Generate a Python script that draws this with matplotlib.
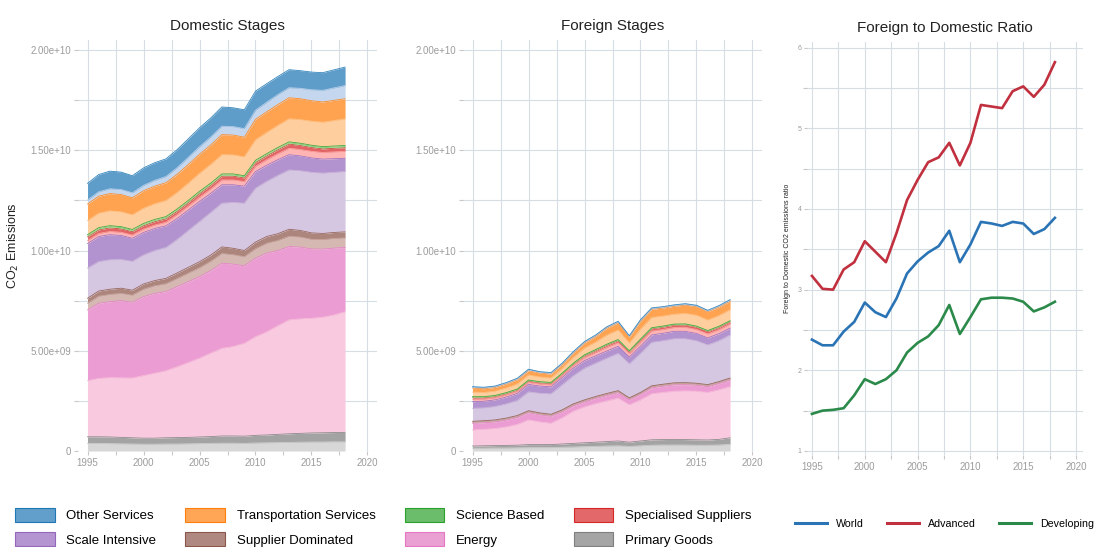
import numpy as np
import matplotlib
matplotlib.use("Agg")
import matplotlib.pyplot as plt
from matplotlib.ticker import MultipleLocator, FuncFormatter
from matplotlib.patches import Patch
from matplotlib.lines import Line2D
from matplotlib.colors import to_rgb

plt.rcParams['font.family'] = ['Liberation Sans', 'DejaVu Sans']

years = list(range(1995, 2019))

# Sector names, stacked bottom -> top; each sector has two components (a: lower, b: upper)
sectors = ["Primary Goods", "Energy", "Supplier Dominated", "Scale Intensive",
           "Specialised Suppliers", "Science Based", "Transportation Services", "Other Services"]
dark_colors = ['#7f7f7f', '#e377c2', '#8c564b', '#9467bd', '#d62728', '#2ca02c', '#ff7f0e', '#1f77b4']
light_colors = ['#c7c7c7', '#f7b6d2', '#c49c94', '#c5b0d5', '#ff9896', '#98df8a', '#ffbb78', '#aec7e8']

# ---- Domestic stages, CO2 emissions in billions (1e9) ----
dom_primary_a = [0.38, 0.38, 0.37, 0.36, 0.35, 0.34, 0.34, 0.35, 0.35, 0.36, 0.37, 0.38,
                 0.39, 0.39, 0.38, 0.40, 0.41, 0.42, 0.43, 0.44, 0.45, 0.45, 0.46, 0.46]
dom_primary_b = [0.33, 0.33, 0.33, 0.32, 0.31, 0.30, 0.30, 0.31, 0.32, 0.32, 0.33, 0.34,
                 0.36, 0.36, 0.36, 0.38, 0.39, 0.41, 0.43, 0.44, 0.45, 0.46, 0.46, 0.47]
dom_energy_a = [2.80, 2.91, 2.96, 2.97, 2.98, 3.12, 3.24, 3.34, 3.53, 3.73, 3.93, 4.16,
                4.37, 4.46, 4.63, 4.92, 5.14, 5.42, 5.68, 5.71, 5.72, 5.76, 5.86, 6.02]
dom_energy_b = [3.53, 3.75, 3.79, 3.85, 3.78, 3.94, 3.98, 3.95, 4.00, 4.04, 4.07, 4.12,
                4.25, 4.11, 3.87, 3.92, 3.93, 3.75, 3.66, 3.58, 3.46, 3.40, 3.34, 3.20]
dom_supplier_a = [0.33, 0.35, 0.36, 0.36, 0.35, 0.37, 0.38, 0.39, 0.40, 0.42, 0.44, 0.46,
                  0.48, 0.47, 0.45, 0.47, 0.49, 0.50, 0.51, 0.50, 0.48, 0.47, 0.48, 0.48]
dom_supplier_b = [0.25, 0.26, 0.26, 0.26, 0.25, 0.26, 0.26, 0.27, 0.28, 0.29, 0.30, 0.31,
                  0.33, 0.32, 0.31, 0.33, 0.34, 0.34, 0.35, 0.33, 0.32, 0.31, 0.30, 0.30]
dom_scale_a = [1.50, 1.47, 1.47, 1.43, 1.44, 1.45, 1.50, 1.54, 1.67, 1.84, 2.01, 2.13,
               2.18, 2.29, 2.36, 2.69, 2.75, 2.91, 2.96, 2.98, 3.02, 3.01, 3.00, 3.01]
dom_scale_b = [1.23, 1.25, 1.25, 1.20, 1.15, 1.12, 1.10, 1.08, 1.05, 1.02, 1.00, 0.95,
               0.92, 0.88, 0.85, 0.83, 0.80, 0.78, 0.76, 0.74, 0.72, 0.70, 0.68, 0.66]
dom_special_a = [0.15, 0.15, 0.16, 0.16, 0.16, 0.17, 0.17, 0.18, 0.19, 0.20, 0.21, 0.22,
                 0.24, 0.24, 0.23, 0.26, 0.28, 0.30, 0.32, 0.32, 0.33, 0.33, 0.34, 0.35]
dom_special_b = [0.18, 0.18, 0.18, 0.17, 0.17, 0.17, 0.17, 0.17, 0.17, 0.17, 0.18, 0.18,
                 0.19, 0.19, 0.18, 0.19, 0.19, 0.20, 0.21, 0.20, 0.19, 0.18, 0.18, 0.18]
dom_science_a = [0.04] * 24
dom_science_b = [0.07] * 24
dom_transport_a = [0.70, 0.72, 0.74, 0.74, 0.73, 0.76, 0.78, 0.80, 0.82, 0.86, 0.90, 0.93,
                   0.96, 0.95, 0.94, 1.02, 1.06, 1.10, 1.15, 1.18, 1.20, 1.22, 1.27, 1.33]
dom_transport_b = [0.83, 0.85, 0.86, 0.86, 0.85, 0.87, 0.88, 0.89, 0.91, 0.93, 0.95, 0.97,
                   1.00, 0.99, 0.98, 1.02, 1.03, 1.04, 1.05, 1.04, 1.02, 1.01, 1.01, 1.00]
dom_other_a = [0.20, 0.22, 0.24, 0.25, 0.25, 0.27, 0.29, 0.31, 0.33, 0.36, 0.38, 0.40,
               0.42, 0.42, 0.43, 0.46, 0.48, 0.50, 0.50, 0.52, 0.55, 0.58, 0.62, 0.66]
dom_other_b = [0.83, 0.86, 0.88, 0.87, 0.85, 0.87, 0.88, 0.88, 0.90, 0.92, 0.94, 0.95,
               0.96, 0.94, 0.94, 0.95, 0.92, 0.90, 0.90, 0.88, 0.88, 0.88, 0.90, 0.92]

# ---- Foreign stages, CO2 emissions in billions (1e9) ----
for_primary_a = [0.14, 0.14, 0.15, 0.15, 0.16, 0.17, 0.17, 0.17, 0.19, 0.20, 0.22, 0.23,
                 0.25, 0.26, 0.23, 0.26, 0.29, 0.30, 0.30, 0.30, 0.29, 0.29, 0.30, 0.34]
for_primary_b = [0.11, 0.12, 0.12, 0.13, 0.13, 0.15, 0.15, 0.15, 0.16, 0.18, 0.19, 0.21,
                 0.22, 0.24, 0.21, 0.24, 0.27, 0.27, 0.28, 0.27, 0.27, 0.26, 0.28, 0.32]
for_energy_a = [0.80, 0.82, 0.85, 0.92, 1.03, 1.23, 1.13, 1.06, 1.30, 1.60, 1.79, 1.92,
                2.03, 2.13, 1.86, 2.05, 2.29, 2.35, 2.40, 2.43, 2.42, 2.37, 2.47, 2.55]
for_energy_b = [0.33, 0.33, 0.33, 0.34, 0.35, 0.36, 0.35, 0.35, 0.30, 0.27, 0.25, 0.26,
                0.27, 0.28, 0.25, 0.27, 0.30, 0.31, 0.32, 0.31, 0.30, 0.29, 0.31, 0.33]
for_supplier_a = [0.06] * 24
for_supplier_b = [0.04] * 24
for_scale_a = [0.65, 0.64, 0.67, 0.71, 0.75, 0.94, 0.98, 1.02, 1.25, 1.40, 1.58, 1.66,
               1.76, 1.86, 1.70, 1.95, 2.17, 2.17, 2.20, 2.19, 2.12, 1.98, 2.04, 2.15]
for_scale_b = [0.33, 0.33, 0.33, 0.34, 0.35, 0.37, 0.36, 0.35, 0.36, 0.38, 0.38, 0.37,
               0.36, 0.35, 0.34, 0.36, 0.37, 0.37, 0.37, 0.37, 0.36, 0.35, 0.35, 0.34]
for_special_a = [0.12, 0.11, 0.10, 0.10, 0.10, 0.10, 0.10, 0.10, 0.10, 0.12, 0.15, 0.16,
                 0.18, 0.18, 0.16, 0.19, 0.19, 0.19, 0.19, 0.20, 0.20, 0.20, 0.20, 0.20]
for_special_b = [0.08, 0.07, 0.07, 0.07, 0.07, 0.07, 0.07, 0.07, 0.07, 0.08, 0.09, 0.10,
                 0.11, 0.11, 0.10, 0.11, 0.12, 0.12, 0.12, 0.12, 0.12, 0.12, 0.12, 0.12]
for_science_a = [0.02] * 24
for_science_b = [0.03] * 24
for_transport_a = [0.23, 0.21, 0.21, 0.23, 0.25, 0.25, 0.23, 0.22, 0.23, 0.28, 0.33, 0.37,
                   0.45, 0.47, 0.38, 0.50, 0.51, 0.50, 0.49, 0.52, 0.54, 0.52, 0.53, 0.55]
for_transport_b = [0.20, 0.19, 0.19, 0.20, 0.22, 0.22, 0.20, 0.20, 0.20, 0.23, 0.26, 0.29,
                   0.35, 0.37, 0.30, 0.40, 0.41, 0.40, 0.40, 0.42, 0.43, 0.42, 0.43, 0.43]
for_other_a = [0.03] * 24
for_other_b = [0.04] * 24

# ---- Foreign to domestic ratio ----
ratio_world = [2.38, 2.31, 2.31, 2.48, 2.60, 2.84, 2.72, 2.66, 2.89, 3.20, 3.35, 3.46,
               3.54, 3.73, 3.34, 3.56, 3.84, 3.82, 3.79, 3.84, 3.82, 3.69, 3.75, 3.89]
ratio_advanced = [3.17, 3.01, 3.00, 3.25, 3.34, 3.60, 3.47, 3.34, 3.70, 4.11, 4.36, 4.58,
                  4.64, 4.82, 4.54, 4.82, 5.29, 5.27, 5.25, 5.46, 5.52, 5.39, 5.54, 5.82]
ratio_developing = [1.46, 1.50, 1.51, 1.53, 1.69, 1.89, 1.83, 1.89, 2.00, 2.22, 2.34, 2.42,
                    2.56, 2.81, 2.45, 2.66, 2.88, 2.90, 2.90, 2.89, 2.85, 2.73, 2.78, 2.85]

domestic_layers = [dom_primary_a, dom_primary_b, dom_energy_a, dom_energy_b,
                   dom_supplier_a, dom_supplier_b, dom_scale_a, dom_scale_b,
                   dom_special_a, dom_special_b, dom_science_a, dom_science_b,
                   dom_transport_a, dom_transport_b, dom_other_a, dom_other_b]
foreign_layers = [for_primary_a, for_primary_b, for_energy_a, for_energy_b,
                  for_supplier_a, for_supplier_b, for_scale_a, for_scale_b,
                  for_special_a, for_special_b, for_science_a, for_science_b,
                  for_transport_a, for_transport_b, for_other_a, for_other_b]


def blend(color, alpha):
    r, g, b = to_rgb(color)
    return (1 - alpha + alpha * r, 1 - alpha + alpha * g, 1 - alpha + alpha * b)


GRID = '#d6dde5'
TICKC = '#9c9c9c'

fig = plt.figure(figsize=(10.96, 5.47), dpi=100)
W, H = 1096, 547


def px_axes(x0, y0, x1, y1):
    return fig.add_axes([x0 / W, (H - y1) / H, (x1 - x0) / W, (y1 - y0) / H])


def style_axes(ax):
    for s in ax.spines.values():
        s.set_visible(False)
    ax.grid(which='both', color=GRID, linewidth=0.8)
    ax.set_axisbelow(True)
    ax.tick_params(which='both', length=3, width=0.8, color='#c8c8c8',
                   labelcolor=TICKC, labelsize=7, pad=2)


def sci_fmt(v, pos):
    return "0" if v == 0 else f"{v:.2e}"


def stacked(ax, layers, title):
    base = np.zeros(len(years))
    for i, layer in enumerate(layers):
        sec = i // 2
        col = light_colors[sec] if i % 2 == 0 else dark_colors[sec]
        top = base + np.array(layer) * 1e9
        ax.fill_between(years, base, top, color=blend(col, 0.72), linewidth=0, zorder=2)
        ax.plot(years, top, color=blend(col, 0.9), linewidth=0.6, zorder=3)
        base = top
    ax.set_xlim(1994.15, 2020.85)
    ax.set_ylim(0, 2.05e10)
    ax.xaxis.set_major_locator(MultipleLocator(5))
    ax.xaxis.set_minor_locator(MultipleLocator(2.5))
    ax.yaxis.set_major_locator(MultipleLocator(5e9))
    ax.yaxis.set_minor_locator(MultipleLocator(2.5e9))
    ax.yaxis.set_major_formatter(FuncFormatter(sci_fmt))
    style_axes(ax)
    ax.set_title(title, fontsize=11, pad=7, color='#222222')


ax1 = px_axes(78, 40, 377, 451)
stacked(ax1, domestic_layers, "Domestic Stages")
ax1.set_ylabel("CO$_2$ Emissions", fontsize=9, color='#222222')
ax1.yaxis.set_label_coords(-0.19, 0.5)

ax2 = px_axes(463, 40, 762, 451)
stacked(ax2, foreign_layers, "Foreign Stages")

ax3 = px_axes(807, 42, 1083, 455)
ax3.plot(years, ratio_world, color='#2a74b6', linewidth=1.9, zorder=3)
ax3.plot(years, ratio_advanced, color='#c0303e', linewidth=1.9, zorder=3)
ax3.plot(years, ratio_developing, color='#2b8a4a', linewidth=1.9, zorder=3)
ax3.set_xlim(1994.53, 2020.66)
ax3.set_ylim(0.95, 6.07)
ax3.xaxis.set_major_locator(MultipleLocator(5))
ax3.xaxis.set_minor_locator(MultipleLocator(2.5))
ax3.yaxis.set_major_locator(MultipleLocator(1))
ax3.yaxis.set_minor_locator(MultipleLocator(0.5))
style_axes(ax3)
ax3.tick_params(axis='y', labelsize=5, length=2)
ax3.set_title("Foreign to Domestic Ratio", fontsize=11, pad=7, color='#222222')
ax3.set_ylabel("Foreign to Domestic CO2 emissions ratio", fontsize=5, color='#222222')
ax3.yaxis.set_label_coords(-0.058, 0.5)

# Sector legend (row-wise order across four columns)
order = [7, 3, 6, 2, 5, 1, 4, 0]
handles = [Patch(facecolor=blend(dark_colors[k], 0.7), edgecolor=dark_colors[k],
                 linewidth=0.8, label=sectors[k]) for k in order]
fig.legend(handles=handles, ncol=4, loc='upper left', bbox_to_anchor=(15 / W, (H - 508) / H),
           frameon=False, fontsize=9.5, handlelength=3.0, handleheight=1.25,
           handletextpad=0.9, columnspacing=2.2, labelspacing=0.75,
           borderpad=0, borderaxespad=0)

# Region legend
line_handles = [Line2D([], [], color='#2a74b6', linewidth=2.2, label='World'),
                Line2D([], [], color='#c0303e', linewidth=2.2, label='Advanced'),
                Line2D([], [], color='#2b8a4a', linewidth=2.2, label='Developing')]
fig.legend(handles=line_handles, ncol=3, loc='center left',
           bbox_to_anchor=(795 / W, (H - 524) / H), frameon=False, fontsize=7.7,
           handlelength=3.0, handletextpad=0.85, columnspacing=2.15,
           borderpad=0, borderaxespad=0)

fig.savefig("out.png", dpi=100)
